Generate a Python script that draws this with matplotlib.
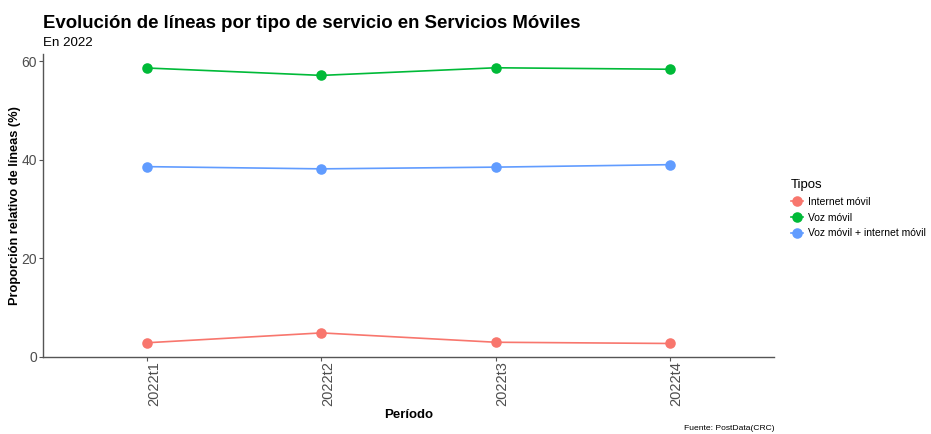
import matplotlib.pyplot as plt
from matplotlib.lines import Line2D

plt.rcParams["font.family"] = ["Liberation Sans", "DejaVu Sans"]

periodos = ["2022t1", "2022t2", "2022t3", "2022t4"]
tipos = ["Internet móvil", "Voz móvil", "Voz móvil + internet móvil"]
internet_movil = [2.8, 4.8, 2.9, 2.65]
voz_movil = [58.65, 57.15, 58.7, 58.4]
voz_internet = [38.6, 38.15, 38.5, 39.0]
colores = ["#F8766D", "#00BA38", "#619CFF"]

fig = plt.figure(figsize=(9.31, 4.34), dpi=100)
ax = fig.add_axes([43 / 931, 1 - 357.3 / 434, (774 - 43) / 931, (357.3 - 54) / 434])

x = list(range(len(periodos)))
for serie, color in zip([internet_movil, voz_movil, voz_internet], colores):
    ax.plot(x, serie, color=color, linewidth=1.2, marker="o", markersize=7.6,
            markeredgewidth=0, zorder=3)

ax.set_xlim(-0.6, 3.6)
ax.set_ylim(-0.16, 61.5)
ax.set_xticks(x)
ax.set_xticklabels(periodos, rotation=90, fontsize=10.5, color="#4D4D4D", ha="left")
ax.set_yticks([0, 20, 40, 60])
ax.tick_params(axis="y", labelsize=10, labelcolor="#4D4D4D", color="#555555",
               length=3, width=0.8, pad=1.5)
ax.tick_params(axis="x", color="#555555", length=3, width=0.8, pad=0)

for side in ["top", "right"]:
    ax.spines[side].set_visible(False)
for side in ["left", "bottom"]:
    ax.spines[side].set_color("#555555")
    ax.spines[side].set_linewidth(1.0)

ax.set_xlabel("Período", fontsize=9.5, fontweight="bold")
ax.set_ylabel("Proporción relativo de líneas (%)", fontsize=9.2, fontweight="bold")
ax.xaxis.set_label_coords(0.5, -(415 - 357.3) / 303.3)
ax.yaxis.set_label_coords(-(43 - 15) / 731, 0.5)
ax.xaxis.label.set_va("center")
ax.yaxis.label.set_va("center")

fig.text(43 / 931, 1 - 23 / 434, "Evolución de líneas por tipo de servicio en Servicios Móviles",
         fontsize=13.4, fontweight="bold", va="center", ha="left")
fig.text(43 / 931, 1 - 43 / 434, "En 2022", fontsize=9.6, va="center", ha="left")
fig.text(775 / 931, 1 - 428 / 434, "Fuente: PostData(CRC)", fontsize=6.1, va="center", ha="right")

handles = [Line2D([0], [0], color=c, linewidth=1.2, marker="o", markersize=7.6,
                  markeredgewidth=0) for c in colores]
leg = fig.legend(handles, tipos, title="Tipos", loc="upper left",
                 bbox_to_anchor=(787 / 931, 1 - 175 / 434), frameon=False,
                 fontsize=7.5, title_fontsize=9.5, handlelength=1.1,
                 handletextpad=0.5, labelspacing=0.55, borderaxespad=0)
leg._legend_box.align = "left"

fig.savefig("out.png", dpi=100)
